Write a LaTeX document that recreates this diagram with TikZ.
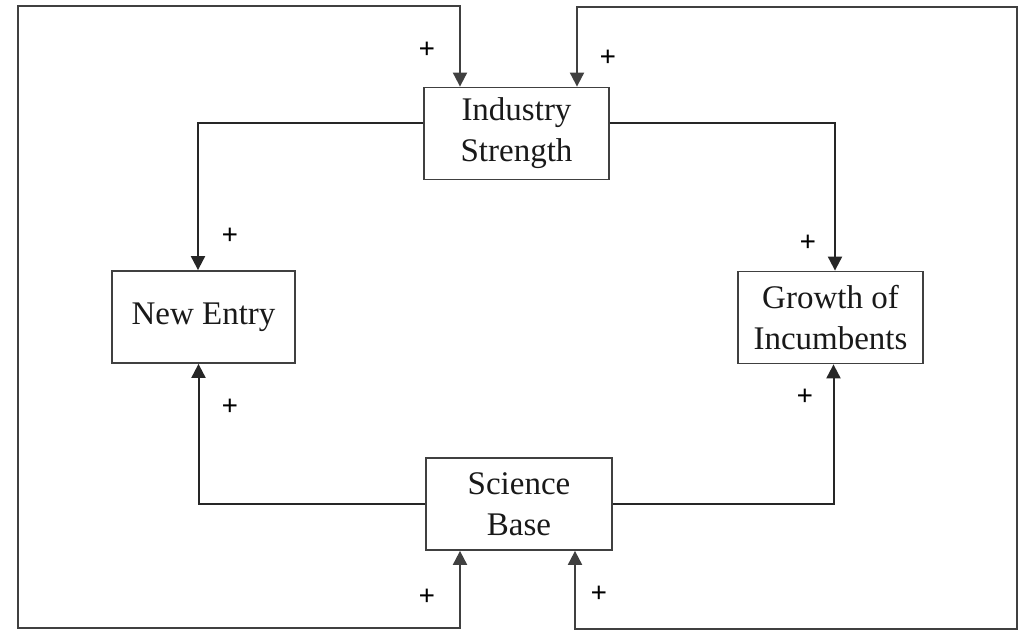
\documentclass[tikz,border=0pt]{standalone}
\usepackage{fontspec}
\setmainfont{Liberation Serif}
\usetikzlibrary{arrows.meta}
\begin{document}
\begin{tikzpicture}[x=1pt,y=1pt,
  box/.style={draw=black!75, line width=1.8pt, minimum width=#1, minimum height=92pt, inner sep=0pt,
    align=center, font=\fontsize{33}{41}\selectfont, text=black!90},
  conn/.style={draw=black!85, line width=2pt, -{Triangle[width=14pt,length=14pt]}},
  both/.style={draw=black!75, line width=2pt, {Triangle[width=14pt,length=14pt]}-{Triangle[width=14pt,length=14pt]}},
  plus/.style={font=\bfseries\fontsize{29}{29}\selectfont, text=black, inner sep=0pt}]
\useasboundingbox (0,0) rectangle (1023,631);
\node[box=185pt] (IS) at (516.5,497.5) {Industry\\Strength};
\node[box=183pt] (NE) at (203.5,314) {New Entry};
\node[box=185pt] (GI) at (830.5,313.5) {Growth of\\Incumbents};
\node[box=186pt] (SB) at (519,127) {Science\\Base};
\coordinate (TL) at (18,625);
\coordinate (BL) at (18,3);
\coordinate (TR) at (1017,624);
\coordinate (BR) at (1017,2);
\draw[conn] ([yshift=10pt]IS.west) -| ([xshift=-5.5pt]NE.north);
\draw[conn] ([yshift=10pt]IS.east) -| ([xshift=4.5pt]GI.north);
\draw[conn] (SB.west) -| ([xshift=-5pt]NE.south);
\draw[conn] (SB.east) -| ([xshift=3pt]GI.south);
\draw[both] ([xshift=-56.5pt]IS.north) |- (TL) -- (BL) -| ([xshift=-59pt]SB.south);
\draw[both] ([xshift=60.5pt]IS.north) |- (TR) -- (BR) -| ([xshift=56pt]SB.south);
\node[plus] (p1) at (427,581) {+};
\node[plus] (p2) at (608,573) {+};
\node[plus] (p3) at (230,395) {+};
\node[plus] (p4) at (230,224) {+};
\node[plus] (p5) at (808,388) {+};
\node[plus] (p6) at (805,234) {+};
\node[plus] (p7) at (427,34) {+};
\node[plus] (p8) at (599,37) {+};
\end{tikzpicture}
\end{document}
